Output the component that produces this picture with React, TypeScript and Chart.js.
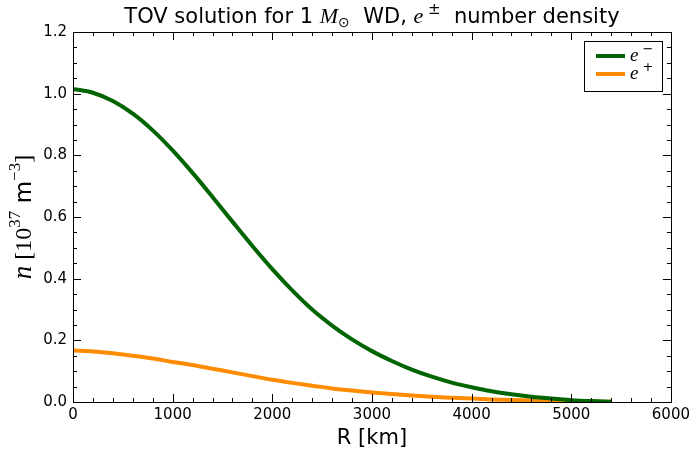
import React, { useEffect, useRef } from "react";
import { Chart, registerables } from "chart.js";

Chart.register(...registerables);

const radiusKm = [0, 200, 400, 600, 800, 1000, 1200, 1400, 1600, 1800, 2000, 2200, 2400, 2600, 2800, 3000, 3200, 3400, 3600, 3800, 4000, 4200, 4400, 4600, 4800, 5000, 5200, 5400];
const electronDensity = [1.015, 1.003, 0.976, 0.935, 0.881, 0.816, 0.743, 0.665, 0.585, 0.506, 0.431, 0.362, 0.3, 0.248, 0.203, 0.165, 0.133, 0.105, 0.082, 0.063, 0.048, 0.035, 0.025, 0.017, 0.011, 0.006, 0.003, 0.001];
const positronDensity = [0.167, 0.164, 0.158, 0.15, 0.141, 0.13, 0.12, 0.108, 0.096, 0.084, 0.072, 0.062, 0.053, 0.044, 0.037, 0.031, 0.026, 0.021, 0.017, 0.014, 0.011, 0.0085, 0.0065, 0.005, 0.0035, 0.0025, 0.0015, 0.001];

const xMajorTicks = [0, 1000, 2000, 3000, 4000, 5000, 6000];
const xMinorStep = 200;
const yMajorTicks = [0, 0.2, 0.4, 0.6, 0.8, 1.0, 1.2];
const yMinorStep = 0.05;
const legendLabels = [{ base: "e", sup: "\u2212" }, { base: "e", sup: "+" }];

const SANS = "'DejaVu Sans', sans-serif";
const SERIF = "'Liberation Serif', 'DejaVu Serif', serif";

type Run = { text: string; font: string; dy?: number };

function runsWidth(ctx: CanvasRenderingContext2D, runs: Run[]) {
  let w = 0;
  for (const r of runs) {
    ctx.font = r.font;
    w += ctx.measureText(r.text).width;
  }
  return w;
}

function drawRuns(ctx: CanvasRenderingContext2D, runs: Run[], x: number, y: number) {
  let cx = x;
  ctx.textAlign = "left";
  ctx.textBaseline = "alphabetic";
  for (const r of runs) {
    ctx.font = r.font;
    ctx.fillText(r.text, cx, y + (r.dy || 0));
    cx += ctx.measureText(r.text).width;
  }
}

const framePlugin = {
  id: "framePlugin",
  afterDraw(chart: any) {
    const ctx: CanvasRenderingContext2D = chart.ctx;
    const { left, right, top, bottom } = chart.chartArea;
    const xs = chart.scales.x;
    const ys = chart.scales.y;
    ctx.save();
    ctx.strokeStyle = "#000";
    ctx.fillStyle = "#000";
    ctx.lineWidth = 1;
    const xmin = xMajorTicks[0];
    const xmax = xMajorTicks[xMajorTicks.length - 1];
    ctx.beginPath();
    for (let v = xmin; v <= xmax + 1e-9; v += xMinorStep) {
      const isMajor = xMajorTicks.some((t) => Math.abs(t - v) < 1e-6);
      const len = isMajor ? 8 : 4;
      const px = Math.round(xs.getPixelForValue(v)) + 0.5;
      ctx.moveTo(px, bottom);
      ctx.lineTo(px, bottom - len);
      ctx.moveTo(px, top);
      ctx.lineTo(px, top + len);
    }
    const ymin = yMajorTicks[0];
    const ymax = yMajorTicks[yMajorTicks.length - 1];
    const nY = Math.round((ymax - ymin) / yMinorStep);
    for (let i = 0; i <= nY; i++) {
      const v = ymin + i * yMinorStep;
      const isMajor = yMajorTicks.some((t) => Math.abs(t - v) < 1e-6);
      const len = isMajor ? 8 : 4;
      const py = Math.round(ys.getPixelForValue(v)) + 0.5;
      ctx.moveTo(left, py);
      ctx.lineTo(left + len, py);
      ctx.moveTo(right, py);
      ctx.lineTo(right - len, py);
    }
    ctx.stroke();
    ctx.strokeRect(Math.round(left) + 0.5, Math.round(top) + 0.5, Math.round(right - left), Math.round(bottom - top));

    // title
    const titleRuns: Run[] = [
      { text: "TOV solution for 1 ", font: `21px ${SANS}` },
      { text: "M", font: `italic 22px ${SERIF}` },
      { text: "\u2299", font: `14px ${SANS}`, dy: 4 },
      { text: "  WD, ", font: `21px ${SANS}` },
      { text: "e", font: `italic 22px ${SERIF}` },
      { text: " \u00b1", font: `15px ${SANS}`, dy: -9 },
      { text: "  number density", font: `21px ${SANS}` },
    ];
    const tw = runsWidth(ctx, titleRuns);
    drawRuns(ctx, titleRuns, (left + right) / 2 - tw / 2, top - 9);

    // x label
    ctx.font = `21px ${SANS}`;
    ctx.textAlign = "center";
    ctx.textBaseline = "alphabetic";
    ctx.fillText("R [km]", (left + right) / 2, 444);

    // y label rotated
    const yRuns: Run[] = [
      { text: "n", font: `italic 27px ${SERIF}` },
      { text: " [", font: `24px ${SERIF}` },
      { text: "10", font: `24px ${SERIF}` },
      { text: "37", font: `17px ${SERIF}`, dy: -11 },
      { text: " m", font: `23px ${SANS}` },
      { text: "\u22123", font: `17px ${SERIF}`, dy: -11 },
      { text: "]", font: `24px ${SERIF}` },
    ];
    const yw = runsWidth(ctx, yRuns);
    ctx.save();
    ctx.translate(31, (top + bottom) / 2);
    ctx.rotate(-Math.PI / 2);
    drawRuns(ctx, yRuns, -yw / 2, 0);
    ctx.restore();

    // legend
    const lx = 584.5, ly = 41.5, lw = 78, lh = 50;
    ctx.fillStyle = "#fff";
    ctx.fillRect(lx, ly, lw, lh);
    ctx.strokeStyle = "#000";
    ctx.lineWidth = 1;
    ctx.strokeRect(lx, ly, lw, lh);
    chart.data.datasets.forEach((ds: any, i: number) => {
      const yy = 56 + i * 18;
      ctx.strokeStyle = ds.borderColor;
      ctx.lineWidth = 4;
      ctx.beginPath();
      ctx.moveTo(596, yy);
      ctx.lineTo(625, yy);
      ctx.stroke();
      ctx.fillStyle = "#000";
      const lab = legendLabels[i];
      drawRuns(ctx, [
        { text: lab.base, font: `italic 19px ${SERIF}` },
        { text: " " + lab.sup, font: `13px ${SANS}`, dy: -8 },
      ], 630, yy + 5);
    });
    ctx.restore();
  },
};

export default function App() {
  const canvasRef = useRef<HTMLCanvasElement | null>(null);
  useEffect(() => {
    document.body.style.margin = "0";
    const canvas = canvasRef.current;
    if (!canvas) return;
    const chart = new Chart(canvas, {
      type: "line",
      data: {
        datasets: [
          {
            label: "e-",
            data: radiusKm.map((r, i) => ({ x: r, y: electronDensity[i] })),
            borderColor: "#006400",
            backgroundColor: "#006400",
            borderWidth: 4,
            pointRadius: 0,
            cubicInterpolationMode: "monotone",
            fill: false,
          },
          {
            label: "e+",
            data: radiusKm.map((r, i) => ({ x: r, y: positronDensity[i] })),
            borderColor: "#FF8C00",
            backgroundColor: "#FF8C00",
            borderWidth: 4,
            pointRadius: 0,
            cubicInterpolationMode: "monotone",
            fill: false,
          },
        ],
      },
      options: {
        responsive: false,
        animation: false,
        layout: { padding: { top: 32, right: 22, left: 0, bottom: 0 } },
        plugins: {
          legend: { display: false },
          title: { display: false },
          tooltip: { enabled: false },
        },
        scales: {
          x: {
            type: "linear",
            min: xMajorTicks[0],
            max: xMajorTicks[xMajorTicks.length - 1],
            grid: { display: false, drawTicks: false },
            border: { display: false },
            afterBuildTicks: (scale: any) => {
              scale.ticks = xMajorTicks.map((v) => ({ value: v }));
            },
            afterFit: (scale: any) => {
              scale.height = 49;
            },
            ticks: {
              color: "#000",
              font: { family: "DejaVu Sans", size: 15 },
              padding: 4,
              maxRotation: 0,
              autoSkip: false,
              callback: (v: any) => String(v),
            },
          },
          y: {
            type: "linear",
            min: yMajorTicks[0],
            max: yMajorTicks[yMajorTicks.length - 1],
            grid: { display: false, drawTicks: false },
            border: { display: false },
            afterBuildTicks: (scale: any) => {
              scale.ticks = yMajorTicks.map((v) => ({ value: v }));
            },
            afterFit: (scale: any) => {
              scale.width = 73;
            },
            ticks: {
              color: "#000",
              font: { family: "DejaVu Sans", size: 15 },
              padding: 6,
              autoSkip: false,
              callback: (v: any) => Number(v).toFixed(1),
            },
          },
        },
      },
      plugins: [framePlugin],
    } as any);
    return () => chart.destroy();
  }, []);
  return (
    <div style={{ width: 694, height: 451, position: "relative" }}>
      <canvas ref={canvasRef} width={694} height={451} style={{ width: 694, height: 451, display: "block" }} />
    </div>
  );
}
